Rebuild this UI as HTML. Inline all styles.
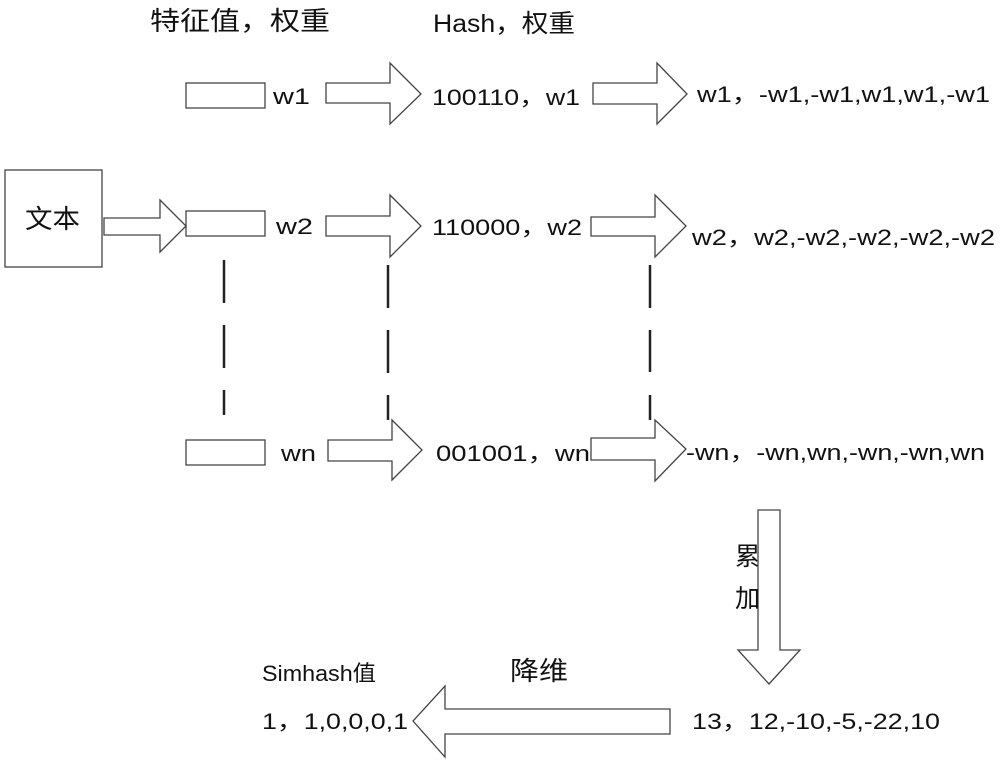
<!DOCTYPE html>
<html><head><meta charset="utf-8"><style>
html,body{margin:0;padding:0;background:#fff;}
svg text{font-family:"Liberation Sans","Noto Sans CJK SC",sans-serif;fill:#111;font-size:22px;}
</style></head><body>
<svg width="1000" height="764" viewBox="0 0 1000 764" xmlns="http://www.w3.org/2000/svg">
<g fill="#fff" stroke="#444" stroke-width="1.3">
<rect x="5" y="170" width="97" height="97"/>
<rect x="186" y="83" width="79" height="25"/>
<rect x="186" y="211" width="79" height="25"/>
<rect x="186" y="440" width="79" height="25"/>
<polygon points="104,218 160,218 160,200 186,226 160,252 160,235 104,235"/>
<polygon points="326,83 390,83 390,63 421,94 390,124 390,103 326,103"/>
<polygon points="326,216 390,216 390,195 421,226 390,257 390,236 326,236"/>
<polygon points="328,440 392,440 392,420 422,450 392,480 392,461 328,461"/>
<polygon points="593,83 657,83 657,63 687,94 657,124 657,104 593,104"/>
<polygon points="591,217 655,217 655,195 686,226 655,257 655,236 591,236"/>
<polygon points="591,438 655,438 655,420 686,449 655,481 655,460 591,460"/>
<polygon points="758,510 780,510 780,650 800,650 769,684 738,650 758,650"/>
<polygon points="670,709 445,709 445,686 413,721 445,757 445,734 670,734"/>
</g>
<g stroke="#222" stroke-width="2.5">
<line x1="224" y1="260" x2="224" y2="303"/><line x1="224" y1="325" x2="224" y2="368"/><line x1="224" y1="390" x2="224" y2="415"/>
<line x1="388" y1="265" x2="388" y2="308"/><line x1="388" y1="330" x2="388" y2="373"/><line x1="388" y1="395" x2="388" y2="420"/>
<line x1="650" y1="265" x2="650" y2="308"/><line x1="650" y1="330" x2="650" y2="372"/><line x1="650" y1="395" x2="650" y2="420"/>
</g>
<text x="150" y="30" style="font-size:26px" textLength="180" lengthAdjust="spacingAndGlyphs">特征值，权重</text>
<text x="433" y="32" style="font-size:25px" textLength="142" lengthAdjust="spacingAndGlyphs">Hash，权重</text>
<text x="25" y="228" style="font-size:26px" textLength="55" lengthAdjust="spacingAndGlyphs">文本</text>
<text x="273" y="104" textLength="37" lengthAdjust="spacingAndGlyphs">w1</text>
<text x="276" y="234" textLength="37" lengthAdjust="spacingAndGlyphs">w2</text>
<text x="281" y="461" textLength="35" lengthAdjust="spacingAndGlyphs">wn</text>
<text x="432" y="105" textLength="148" lengthAdjust="spacingAndGlyphs">100110，w1</text>
<text x="432" y="235" textLength="150" lengthAdjust="spacingAndGlyphs">110000，w2</text>
<text x="436" y="461" textLength="154" lengthAdjust="spacingAndGlyphs">001001，wn</text>
<text x="697" y="102" textLength="293" lengthAdjust="spacingAndGlyphs">w1，-w1,-w1,w1,w1,-w1</text>
<text x="692" y="245" textLength="303" lengthAdjust="spacingAndGlyphs">w2，w2,-w2,-w2,-w2,-w2</text>
<text x="686" y="460" textLength="299" lengthAdjust="spacingAndGlyphs">-wn，-wn,wn,-wn,-wn,wn</text>
<text x="735" y="565" style="font-size:25px">累</text>
<text x="735" y="607" style="font-size:25px">加</text>
<text x="510" y="680" style="font-size:26px" textLength="58" lengthAdjust="spacingAndGlyphs">降维</text>
<text x="262" y="681" textLength="114" lengthAdjust="spacingAndGlyphs">Simhash值</text>
<text x="262" y="729" textLength="146" lengthAdjust="spacingAndGlyphs">1，1,0,0,0,1</text>
<text x="692" y="729" textLength="248" lengthAdjust="spacingAndGlyphs">13，12,-10,-5,-22,10</text>
</svg>
</body></html>
